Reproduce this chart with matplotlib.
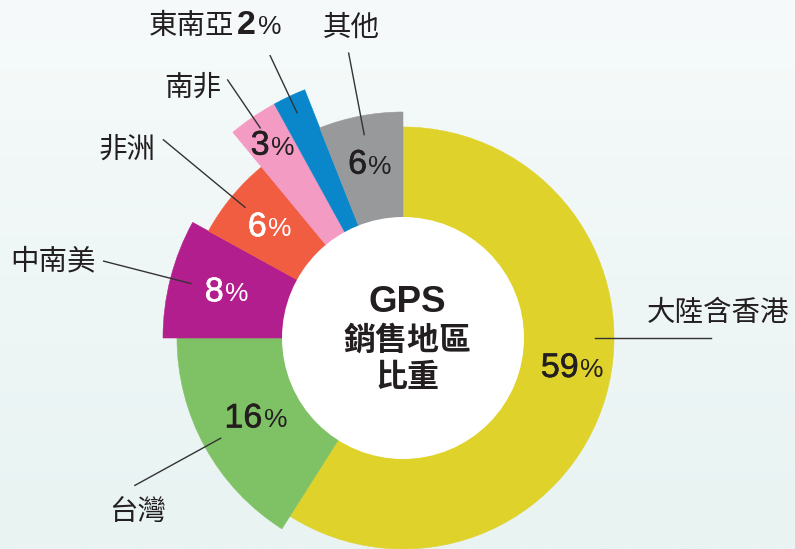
import numpy as np
import matplotlib.pyplot as plt
import matplotlib.patheffects as pe
from matplotlib.patches import Wedge, Circle
from matplotlib.colors import LinearSegmentedColormap
from matplotlib.offsetbox import TextArea, HPacker, AnnotationBbox

plt.rcParams['font.family'] = ['Noto Sans CJK TC', 'DejaVu Sans']

# data
regions = ['大陸含香港', '台灣', '中南美', '非洲', '南非', '東南亞', '其他']
shares = [59, 16, 8, 6, 3, 2, 6]
pct_text = ['59', '16', '8', '6', '3', '2', '6']
colors = ['#dfd22b', '#7fc266', '#b31e8e', '#f15d41', '#f39bc3', '#0a87cb', '#98999b']

# layout (pixels, centre of the ring at 0,0)
inner_r = 121
outer_r = [211, 226, 240, 222, 267, 267, 226]
pct_r = [172, 168, 182, 173, 232, None, 176]
pct_shift = [-6, 0, 0, 0, 0, 0, 0]           # degrees, nudge of the % label
pct_col = ['#231f20', '#231f20', 'white', 'white', '#231f20', None, '#231f20']
lead_in = [192, 208, 219, 205, 254, 249, 207]
lead_out = [308, 306, 309, 311, 312, 312, 290]
lead_ang = [90, None, None, None, None, None, None]
# offset of the region name from the end of its leader line
name_off = [(7, 25), (3, -27), (-8, 0), (-8, -10), (-6, -8), (-55, 30), (3, 25)]
name_ha = ['center', 'center', 'right', 'right', 'right', 'center', 'center']

dark = '#231f20'
num_font = dict(family=['Liberation Sans'], size=24.5)
pc_font = dict(family=['Liberation Sans'], size=19)

fig = plt.figure(figsize=(7.95, 5.49), dpi=100)
ax = fig.add_axes([0, 0, 1, 1])
ax.set_xlim(-403, 392)
ax.set_ylim(-211, 338)
ax.axis('off')

# background gradient
bg = LinearSegmentedColormap.from_list('bg', ['#e8f3f2', '#f6fafa'])
ax.imshow(np.linspace(0, 1, 256).reshape(-1, 1), cmap=bg, aspect='auto',
          extent=(-403, 392, -211, 338), origin='lower', zorder=0)


def pol(r, a):
    # a: degrees clockwise from 12 o'clock
    t = np.radians(a)
    return r * np.sin(t), r * np.cos(t)


def pct_box(num, col, bold=False):
    nf = dict(num_font, color=col)
    if bold:
        nf['weight'] = 'bold'
    else:
        # medium-ish weight
        nf['path_effects'] = [pe.withStroke(linewidth=0.45, foreground=col)]
    return [TextArea(num, textprops=nf), TextArea('%', textprops=dict(pc_font, color=col))]


start = 0.0
for i, v in enumerate(shares):
    a0 = 360 * start / 100
    a1 = 360 * (start + v) / 100
    start += v
    mid = (a0 + a1) / 2
    w = Wedge((0, 0), outer_r[i], 90 - a1, 90 - a0, facecolor=colors[i],
              edgecolor=colors[i], linewidth=0.4, zorder=2)
    ax.add_patch(w)

    # percentage label inside the slice
    if pct_r[i] is not None:
        x, y = pol(pct_r[i], mid + pct_shift[i])
        box = HPacker(children=pct_box(pct_text[i], pct_col[i]), align='baseline', pad=0, sep=1)
        ax.add_artist(AnnotationBbox(box, (x, y), frameon=False, pad=0,
                                     box_alignment=(0.5, 0.5), zorder=5))

    # leader line
    la = lead_ang[i] if lead_ang[i] is not None else mid
    x0, y0 = pol(lead_in[i], la)
    x1, y1 = pol(lead_out[i], la)
    ax.plot([x0, x1], [y0, y1], color='#333333', lw=1, zorder=6)

    nx, ny = x1 + name_off[i][0], y1 + name_off[i][1]
    if pct_r[i] is None:
        kids = [TextArea(regions[i], textprops=dict(size=20.5, color=dark))] + \
            pct_box(pct_text[i], dark, bold=True)
        box = HPacker(children=kids, align='baseline', pad=0, sep=2)
        ax.add_artist(AnnotationBbox(box, (nx, ny), frameon=False, pad=0,
                                     box_alignment=(0.5, 0.5), zorder=5))
    else:
        ax.text(nx, ny, regions[i], fontsize=20.5, color=dark, ha=name_ha[i],
                va='center', zorder=6)

ax.add_patch(Circle((0, 0), inner_r, facecolor='white', edgecolor='none', zorder=3))

ax.text(4, 36, 'GPS', fontsize=26.5, fontweight='bold', color=dark,
        family=['Liberation Sans'], ha='center', va='center', zorder=6)
ax.text(4, -3, '銷售地區', fontsize=23, fontweight='bold', color=dark,
        ha='center', va='center', zorder=6)
ax.text(4, -40, '比重', fontsize=23, fontweight='bold', color=dark,
        ha='center', va='center', zorder=6)

fig.savefig('out.png', dpi=100)
